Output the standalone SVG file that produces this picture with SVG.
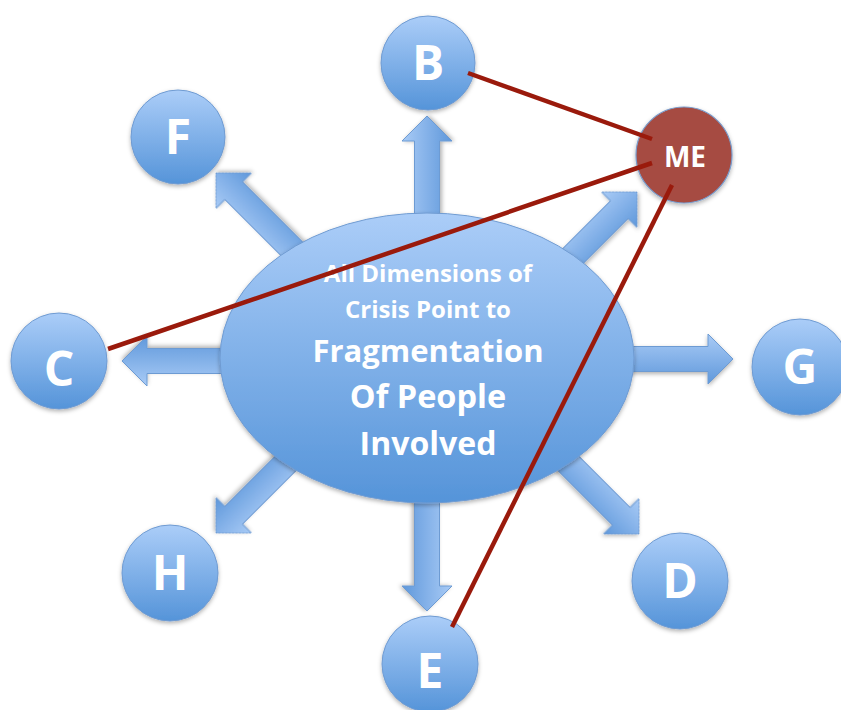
<svg xmlns="http://www.w3.org/2000/svg" width="841" height="710" viewBox="0 0 841 710">
<defs>
<linearGradient id="gBlue" x1="0" y1="0" x2="0" y2="1">
<stop offset="0" stop-color="#abcdf8"/>
<stop offset="1" stop-color="#5594d9"/>
</linearGradient>
<linearGradient id="gArrow" x1="0" y1="0" x2="0" y2="1">
<stop offset="0" stop-color="#a9cbf6"/>
<stop offset="1" stop-color="#5f98db"/>
</linearGradient>
<filter id="sh" x="-20%" y="-20%" width="140%" height="150%">
<feDropShadow dx="0" dy="2" stdDeviation="2" flood-color="#000" flood-opacity="0.3"/>
</filter>
<path id="arr" d="M0,0 L-25,-25 V-12.5 H-200 V12.5 H-25 V25 Z"/>
</defs>
<style>
.arrow{fill:url(#gArrow);stroke:#6d9bd3;stroke-width:1;filter:url(#sh)}
.node{fill:url(#gBlue);stroke:#6f9bd2;stroke-width:1;filter:url(#sh)}
.me{fill:#a64b43;stroke:#7a9ccb;stroke-width:1.2;filter:url(#sh)}
.lbl{font-family:"Open Sans","Liberation Sans",sans-serif;font-weight:bold;fill:#fff;text-anchor:middle}
.big{font-size:48px}
.link{stroke:#9a1a0c;stroke-width:4.5;fill:none}
</style>
<g id="arrows">
<use href="#arr" class="arrow" transform="translate(427,116) rotate(-90)"/>
<use href="#arr" class="arrow" transform="translate(427,611) rotate(90)"/>
<use href="#arr" class="arrow" transform="translate(122,361) rotate(180)"/>
<use href="#arr" class="arrow" transform="translate(733,359)"/>
<use href="#arr" class="arrow" transform="translate(216,173) rotate(225)"/>
<use href="#arr" class="arrow" transform="translate(637,192) rotate(-45)"/>
<use href="#arr" class="arrow" transform="translate(216,533) rotate(135)"/>
<use href="#arr" class="arrow" transform="translate(639,534) rotate(45)"/>
</g>
<g id="center">
<ellipse cx="427" cy="358" rx="207" ry="145" class="node"/>
<text class="lbl" x="428" y="282" font-size="24">All Dimensions of</text>
<text class="lbl" x="428" y="318" font-size="24">Crisis Point to</text>
<text class="lbl" x="428" y="362" font-size="31">Fragmentation</text>
<text class="lbl" x="428" y="408" font-size="32.5">Of People</text>
<text class="lbl" x="428" y="455" font-size="32">Involved</text>
</g>
<g id="node-B"><circle cx="428" cy="63" r="47" class="node"/><text class="lbl big" x="428" y="80">B</text></g>
<g id="node-F"><circle cx="178" cy="137" r="47" class="node"/><text class="lbl big" x="178" y="154">F</text></g>
<g id="node-C"><circle cx="59" cy="361" r="48" class="node"/><text class="lbl big" x="59" y="386">C</text></g>
<g id="node-G"><circle cx="800" cy="367" r="48" class="node"/><text class="lbl big" x="800" y="384">G</text></g>
<g id="node-H"><circle cx="170" cy="573" r="48" class="node"/><text class="lbl big" x="170" y="590">H</text></g>
<g id="node-D"><circle cx="680" cy="581" r="48" class="node"/><text class="lbl big" x="680" y="598">D</text></g>
<g id="node-E"><circle cx="430" cy="664" r="48" class="node"/><text class="lbl big" x="430" y="688">E</text></g>
<g id="node-ME"><circle cx="684" cy="155" r="48" class="me"/><text class="lbl" x="685" y="167" font-size="28">ME</text></g>
<g id="connectors">
<line class="link" x1="468" y1="73" x2="652" y2="139"/>
<line class="link" x1="108" y1="349" x2="652" y2="163"/>
<line class="link" x1="672" y1="185" x2="452" y2="627"/>
</g>
</svg>
